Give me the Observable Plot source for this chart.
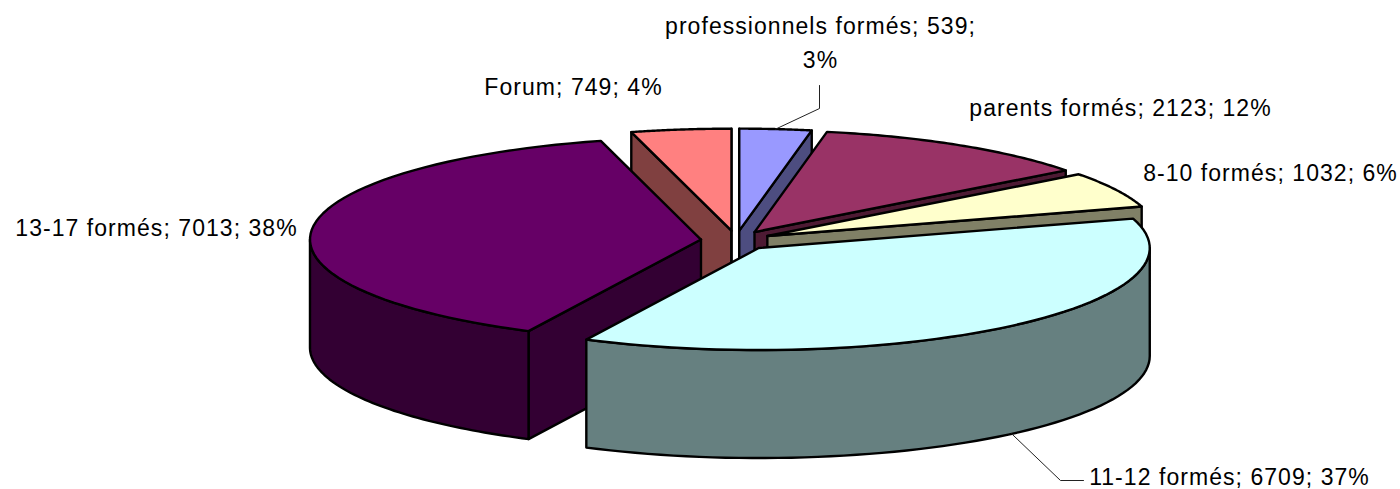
<!DOCTYPE html>
<html>
<head>
<meta charset="utf-8">
<script src="https://cdn.jsdelivr.net/npm/d3@7"></script>
<script src="https://cdn.jsdelivr.net/npm/@observablehq/plot@0.6"></script>
<style>html,body{margin:0;padding:0;background:#fff}svg{display:block}</style>
</head>
<body>
<div id="chart"></div>
<script>
// Data, clockwise from the top of the pie
const categories = ["professionnels formés", "parents formés", "8-10 formés", "11-12 formés", "13-17 formés", "Forum"];
const values = [539, 2123, 1032, 6709, 7013, 749];
const percents = [3, 12, 6, 37, 38, 4];
const topColors = ["#9999FF", "#993366", "#FFFFCC", "#CCFFFF", "#660066", "#FF8080"];
const sideColors = ["#4D4D80", "#4D1A33", "#808066", "#668080", "#330033", "#804040"];
const drawOrder = [5, 0, 1, 2, 4, 3];

// Layout of the labels (centre of each text) and leader elbows
const labelX = [820, 1120, 1270, 1229, 156, 573];
const labelY = [40, 105, 170, 474, 225, 84];
const leaderElbows = {0: [[819, 108], [819, 85]], 3: [[1060, 480], [1083, 480]]};

// Projection of the tilted pie
const cx = 735.5, cy = 240, rx = 391, ry = 102, depth = 108, explodeX = 0.09, explodeY = 0.097;
const rad = d => d * Math.PI / 180;
const total = d3.sum(values);
let cum = 0;
const slices = values.map((v, i) => {
  const a0 = cum / total * 360; cum += v;
  const a1 = cum / total * 360;
  const mid = (a0 + a1) / 2;
  return {i, a0, a1, mid,
    ax: cx + explodeX * rx * Math.sin(rad(mid)),
    ay: cy - explodeY * ry * Math.cos(rad(mid))};
});
const rim = (s, a, dz = 0) => [s.ax + rx * Math.sin(rad(a)), s.ay - ry * Math.cos(rad(a)) + dz];
const arc = (s, a0, a1, dz = 0) => d3.range(0, 61).map(k => rim(s, a0 + (a1 - a0) * k / 60, dz));
const cutWall = (s, a) => {
  const p = rim(s, a);
  return [[s.ax, s.ay], p, [p[0], p[1] + depth], [s.ax, s.ay + depth], [s.ax, s.ay]];
};

const polygons = [];
for (const idx of drawOrder) {
  const s = slices[idx];
  // Only the cut faces that turn towards the viewer
  if (Math.sin(rad(s.a0)) <= 1e-9) polygons.push({fill: sideColors[idx], pts: cutWall(s, s.a0)});
  if (Math.sin(rad(s.a1)) >= -1e-9) polygons.push({fill: sideColors[idx], pts: cutWall(s, s.a1)});
  const f0 = Math.max(s.a0, 90), f1 = Math.min(s.a1, 270);
  if (f1 > f0) {
    const wall = [...arc(s, f0, f1), ...arc(s, f1, f0, depth)];
    wall.push(wall[0]);
    polygons.push({fill: sideColors[idx], pts: wall});
  }
  polygons.push({fill: topColors[idx], pts: [[s.ax, s.ay], ...arc(s, s.a0, s.a1), [s.ax, s.ay]]});
}

const leaders = Object.entries(leaderElbows).map(([k, pts]) => {
  const s = slices[+k];
  const front = s.mid > 90 && s.mid < 270;
  return [rim(s, s.mid, front ? depth : 0), ...pts];
});

const labels = categories.map((c, i) => ({
  x: labelX[i], y: labelY[i],
  text: i === 0 ? `${c}; ${values[i]};\n${percents[i]}%` : `${c}; ${values[i]}; ${percents[i]}%`
}));

const chart = Plot.plot({
  width: 1400, height: 489, margin: 0,
  x: {domain: [0, 1400], range: [0, 1400], axis: null},
  y: {domain: [0, 489], range: [0, 489], axis: null},
  style: {background: "#fff"},
  marks: [
    ...polygons.map(p => Plot.line(p.pts, {
      x: d => d[0], y: d => d[1], fill: p.fill, stroke: "#000",
      strokeWidth: 2.4, strokeLinejoin: "round", curve: "linear"
    })),
    ...leaders.map(l => Plot.line(l, {x: d => d[0], y: d => d[1], stroke: "#222", strokeWidth: 1, curve: "linear"})),
    Plot.text(labels, {
      x: "x", y: "y", text: "text", textAnchor: "middle", lineAnchor: "middle",
      lineHeight: 1.48, fontSize: 23, fill: "#000", fontFamily: "'Liberation Sans', Arial, sans-serif"
    })
  ]
});
chart.querySelectorAll("text").forEach(t => t.style.letterSpacing = "1.05px");
document.getElementById("chart").appendChild(chart);
</script>
</body>
</html>
